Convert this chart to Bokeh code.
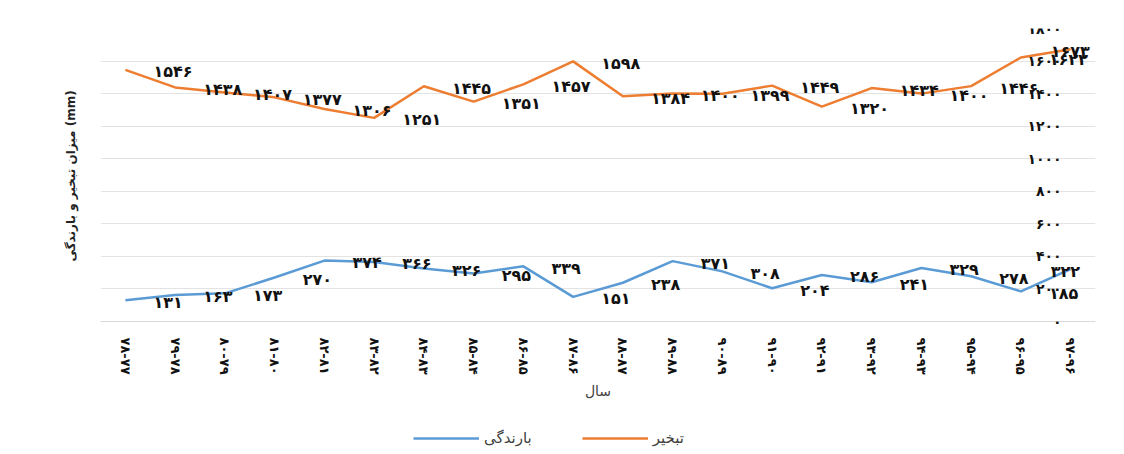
from bokeh.plotting import figure
from bokeh.models import (LinearAxis, Legend, LegendItem, ColumnDataSource,
                          FixedTicker, Range1d, FactorRange, Title)
from bokeh.embed import file_html
from bokeh.resources import INLINE
from bokeh.core.properties import value

# ---------------- data ----------------
years = ["۷۸-۷۷", "۷۹-۷۸", "۸۰-۷۹", "۸۱-۸۰", "۸۲-۸۱", "۸۳-۸۲", "۸۴-۸۳",
         "۸۵-۸۴", "۸۶-۸۵", "۸۷-۸۶", "۸۸-۸۷", "۸۹-۸۸", "۹۰-۸۹", "۹۱-۹۰",
         "۹۲-۹۱", "۹۳-۹۲", "۹۴-۹۳", "۹۵-۹۴", "۹۶-۹۵", "۹۷-۹۶"]
evaporation = [1546, 1438, 1407, 1377, 1306, 1251, 1445, 1351, 1457, 1598,
               1384, 1400, 1399, 1449, 1320, 1434, 1400, 1446, 1622, 1673]
rainfall = [131, 163, 173, 270, 374, 366, 326, 295, 339, 151,
            238, 371, 308, 204, 286, 241, 329, 278, 185, 322]
y_ticks = [0, 200, 400, 600, 800, 1000, 1200, 1400, 1600, 1800]
y_tick_labels = ["۰", "۲۰۰", "۴۰۰", "۶۰۰", "۸۰۰", "۱۰۰۰", "۱۲۰۰", "۱۴۰۰", "۱۶۰۰", "۱۸۰۰"]
series_names = ["تبخیر", "بارندگی"]
x_title = "سال"
y_title = "میزان تبخیر و بارندگی (mm)"

FA = str.maketrans("0123456789", "۰۱۲۳۴۵۶۷۸۹")
def fa(n):
    return str(n).translate(FA)

ORANGE = "#ED7D31"
BLUE = "#5B9BD5"
GRID = "#E3E3E3"
FONT = "DejaVu Sans"

# layout: value area is 293px tall (0..1800); the frame continues below it
# so that the category axis, its title and the legend live inside the frame
Y_MIN, Y_MAX = y_ticks[0], y_ticks[-1]
PLOT_H = 293
FRAME_H = 425
y_low = Y_MIN - (FRAME_H - PLOT_H) * (Y_MAX - Y_MIN) / PLOT_H

p = figure(x_range=FactorRange(*years), y_range=Range1d(y_low, Y_MAX),
           frame_width=995, frame_height=FRAME_H,
           min_border_left=100, min_border_right=21, min_border_top=28,
           min_border_bottom=0,
           output_backend="svg", toolbar_location=None)
p.outline_line_color = None
p.background_fill_color = "white"
p.border_fill_color = "white"

# grid
p.xgrid.grid_line_color = None
p.ygrid.ticker = FixedTicker(ticks=y_ticks)
p.ygrid.grid_line_color = GRID
p.ygrid.grid_line_width = 1

# default left axis: empty
p.yaxis.ticker = FixedTicker(ticks=[])
p.yaxis.major_tick_line_color = None
p.yaxis.minor_tick_line_color = None
p.yaxis.axis_line_color = None
p.yaxis.major_tick_in = 0
p.yaxis.major_tick_out = 0
p.yaxis.major_label_standoff = 0

# value labels drawn inside the plot, near its right side
yax = LinearAxis(ticker=FixedTicker(ticks=y_ticks),
                 major_label_overrides={t: l for t, l in zip(y_ticks, y_tick_labels)},
                 fixed_location=19.36)
yax.axis_line_color = None
yax.major_tick_line_color = None
yax.minor_tick_line_color = None
yax.major_tick_out = 0
yax.major_label_standoff = 2
yax.major_label_text_font = FONT
yax.major_label_text_font_size = "14px"
yax.major_label_text_font_style = "bold"
yax.major_label_text_color = "#111111"
p.add_layout(yax, "left")

# vertical title, placed over the value area (0..1800)
ytitle = Title(text=y_title, align="left", offset=(FRAME_H - PLOT_H) + 60,
               standoff=46,
               text_font=FONT, text_font_size="12px", text_font_style="bold",
               text_color="#222222")
p.add_layout(ytitle, "left")

# category axis sitting on the zero line
p.xaxis.fixed_location = Y_MIN
p.xaxis.axis_line_color = "#D9D9D9"
p.xaxis.major_tick_line_color = None
p.xaxis.minor_tick_line_color = None
p.xaxis.major_label_orientation = "vertical"
p.xaxis.major_label_text_font = FONT
p.xaxis.major_label_text_font_size = "13px"
p.xaxis.major_label_text_font_style = "bold"
p.xaxis.major_label_text_color = "#111111"
p.xaxis.major_label_standoff = 10
p.xaxis.axis_label = x_title
p.xaxis.axis_label_text_font = FONT
p.xaxis.axis_label_text_font_size = "14px"
p.xaxis.axis_label_text_font_style = "normal"
p.xaxis.axis_label_text_color = "#404040"
p.xaxis.axis_label_standoff = 5

n = len(years)
offsets = [28] * (n - 1) + [-20]

src = ColumnDataSource(dict(
    x=years, evap=evaporation, rain=rainfall, off=offsets,
    evap_t=[fa(v) for v in evaporation], rain_t=[fa(v) for v in rainfall]))

r_evap = p.line("x", "evap", source=src, line_color=ORANGE, line_width=2.5)
r_rain = p.line("x", "rain", source=src, line_color=BLUE, line_width=2.5)

for col, tcol in (("evap", "evap_t"), ("rain", "rain_t")):
    p.text("x", col, text=tcol, source=src, x_offset="off", y_offset=2,
           text_align="left", text_baseline="middle",
           text_font=value(FONT), text_font_size="16px",
           text_font_style="bold", text_color="#111111")

legend = Legend(items=[LegendItem(label=series_names[1], renderers=[r_rain]),
                       LegendItem(label=series_names[0], renderers=[r_evap])],
                orientation="horizontal", location=(313, 5))
legend.glyph_width = 66
legend.spacing = 50
legend.padding = 4
legend.margin = 0
legend.label_text_font = FONT
legend.label_text_font_size = "15px"
legend.label_text_color = "#404040"
legend.border_line_color = None
legend.background_fill_alpha = 0
p.add_layout(legend, "center")

open("out.html", "w").write(file_html(p, INLINE))
